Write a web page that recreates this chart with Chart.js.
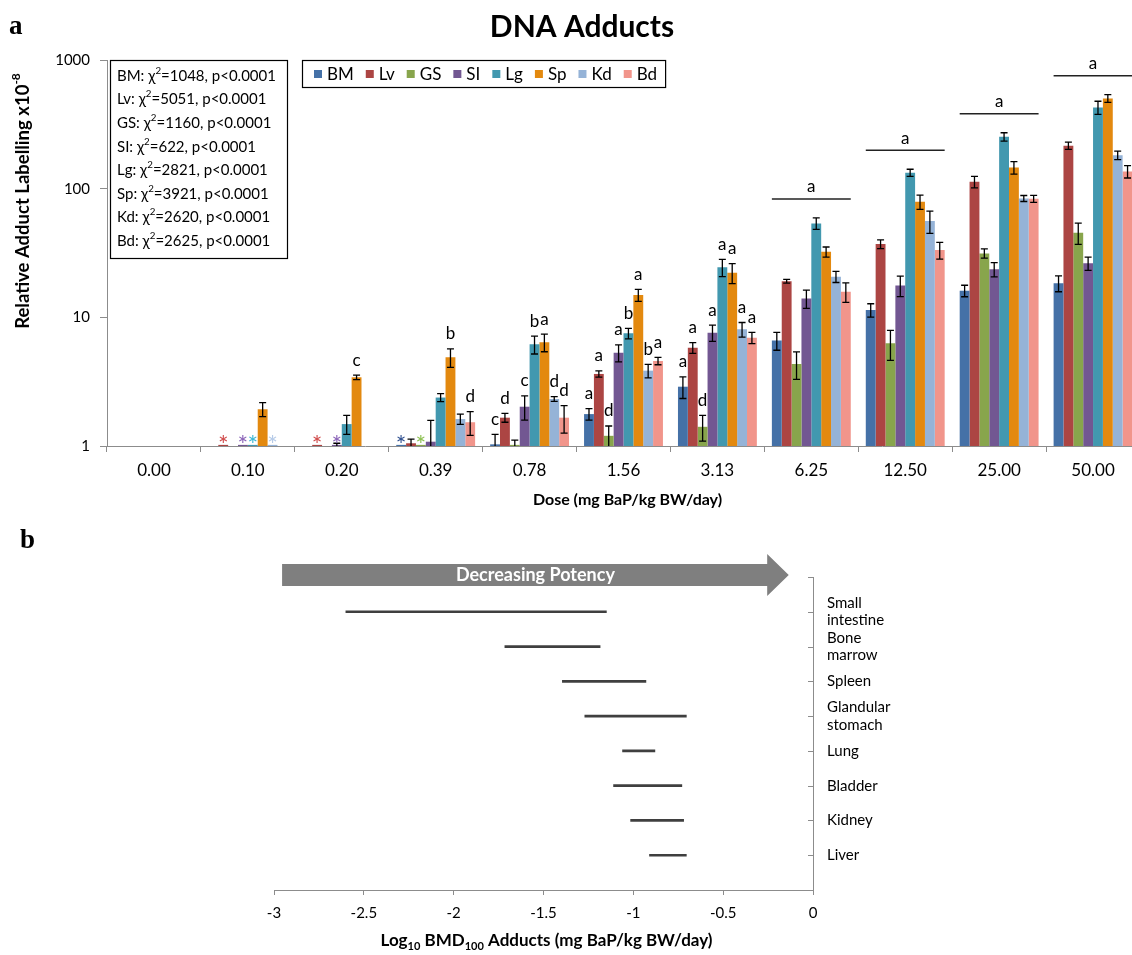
<!DOCTYPE html>
<html><head><meta charset="utf-8">
<script src="https://cdn.jsdelivr.net/npm/chart.js@4.4.1/dist/chart.umd.min.js"></script>
<style>
html,body{margin:0;padding:0;background:#fff;overflow:hidden;width:1132px;height:955px;position:relative;}
#wa{position:absolute;left:0;top:0;width:1142px;height:520px;}
#wb{position:absolute;left:0;top:520px;width:1132px;height:435px;}
canvas{display:block;}
</style></head><body>
<div id="wa"><canvas id="ca" width="1142" height="520"></canvas></div>
<div id="wb"><canvas id="cb" width="1132" height="435"></canvas></div>
<script>
// ---------- Panel a data ----------
const doses = ['0.00','0.10','0.20','0.39','0.78','1.56','3.13','6.25','12.50','25.00','50.00'];
const seriesNames = ['BM','Lv','GS','SI','Lg','Sp','Kd','Bd'];
const BM = [null,null,null,1.02,1.03,1.77,2.89,6.6,11.4,16.1,18.4];
const Lv = [null,1.02,1.02,1.05,1.66,3.63,5.8,19.1,37.1,113,216];
const GS = [null,null,null,1.02,1.02,1.20,1.41,4.34,6.28,31.4,45.4];
const SI = [null,1.02,1.02,1.08,2.02,5.31,7.6,14.0,17.7,23.6,26.3];
const Lg = [null,1.02,1.48,2.38,6.17,7.51,24.5,53.7,133,253,428];
const Sp = [null,1.93,3.42,4.89,6.4,14.9,22.2,32.3,79,146,503];
const Kd = [null,1.02,null,1.62,2.32,3.85,8.07,20.7,56,84,182];
const Bd = [null,null,null,1.53,1.66,4.58,6.95,15.8,33.3,83.5,136];
// standard errors
const BM_se = [0,0,0,0,0.2,0.18,0.55,1.05,1.35,1.65,2.6];
const Lv_se = [0,0,0,0.08,0.13,0.2,0.55,0.65,2.9,11.5,14];
const GS_se = [0,0,0,0,0.09,0.23,0.32,1.05,1.65,2.6,8.5];
const SI_se = [0,0,0.03,0.5,0.43,0.8,1.1,2.25,3.2,3.0,3.1];
const Lg_se = [0,0,0.25,0.17,0.98,0.7,3.75,5.5,8.5,19,50];
const Sp_se = [0,0.24,0.14,0.8,1.0,1.6,3.95,2.9,10,16.5,35];
const Kd_se = [0,0,0,0.15,0.1,0.46,1.05,2.05,11,4.5,14];
const Bd_se = [0,0,0,0.32,0.4,0.3,0.7,2.75,5,5.2,15];
// significance marks
const BM_sig = [null,null,null,'*','c','a','a',null,null,null,null];
const Lv_sig = [null,'*','*',null,'d','a','a',null,null,null,null];
const GS_sig = [null,null,null,'*',null,'d','d',null,null,null,null];
const SI_sig = [null,'*','*',null,'c','a','a',null,null,null,null];
const Lg_sig = [null,'*',null,null,'b','b','a',null,null,null,null];
const Sp_sig = [null,null,'c','b','a','a','a',null,null,null,null];
const Kd_sig = [null,'*',null,null,'d','b','a',null,null,null,null];
const Bd_sig = [null,null,null,'d','d','a','a',null,null,null,null];
const groupSig = [null,null,null,null,null,null,null,'a','a','a','a'];
const chiValues = [1048,5051,1160,622,2821,3921,2620,2625];
const pText = 'p<0.0001';
const yTicks = [1,10,100,1000];

// ---------- Panel b data ----------
const organs = [['Small','intestine'],['Bone','marrow'],['Spleen'],['Glandular','stomach'],['Lung'],['Bladder'],['Kidney'],['Liver']];
const bmdLow  = [-2.60,-1.715,-1.395,-1.27,-1.06,-1.11,-1.015,-0.91];
const bmdHigh = [-1.15,-1.185,-0.93,-0.705,-0.88,-0.73,-0.72,-0.705];
const bTicks = [-3,-2.5,-2,-1.5,-1,-0.5,0];

// ---------- styles ----------
const seriesColors = ['#4571A7','#AC4543','#88A54C','#725792','#4298AF','#E3890F','#95B3D7','#F1958B'];
const starColors = ['#2f4f8f','#d04a4a','#8cc050','#8a63b8','#3cb8d4','#e3890f','#b6cbe8','#f1958b'];
const FONT = 'Lato, "Open Sans", sans-serif';
const vals = [BM,Lv,GS,SI,Lg,Sp,Kd,Bd];
const ses = [BM_se,Lv_se,GS_se,SI_se,Lg_se,Sp_se,Kd_se,Bd_se];
const sigs = [BM_sig,Lv_sig,GS_sig,SI_sig,Lg_sig,Sp_sig,Kd_sig,Bd_sig];

function richText(ctx, parts, x, y, align, size, weight){
  const f = (s)=> `${weight} ${s}px ${FONT}`;
  let total = 0;
  parts.forEach(p=>{ ctx.font = f(p.m ? size*0.65 : size); p.w = ctx.measureText(p.t).width; total += p.w; });
  let cx = align==='center' ? x - total/2 : (align==='right' ? x-total : x);
  ctx.textAlign='left'; ctx.textBaseline='middle';
  parts.forEach(p=>{
    ctx.font = f(p.m ? size*0.65 : size);
    const dy = p.m==='sup' ? -size*0.35 : (p.m==='sub' ? size*0.3 : 0);
    ctx.fillText(p.t, cx, y+dy); cx += p.w;
  });
}

const pluginA = {
  id:'annA',
  afterDatasetsDraw(chart){
    const {ctx, chartArea:ca, scales:{x:xs, y:ys}} = chart;
    ctx.save();
    ctx.beginPath(); ctx.rect(0, 0, chart.width, ca.bottom); ctx.clip();
    ctx.strokeStyle='#000'; ctx.lineWidth=1.3;
    vals.forEach((arr,i)=>{
      const meta = chart.getDatasetMeta(i);
      arr.forEach((v,j)=>{
        const se = ses[i][j];
        if(v==null || !se) return;
        const x = meta.data[j].x;
        const yh = ys.getPixelForValue(v+se);
        const lo = v-se;
        const yl = lo>1 ? ys.getPixelForValue(lo) : ca.bottom+5;
        ctx.beginPath();
        ctx.moveTo(x, yh); ctx.lineTo(x, yl);
        ctx.moveTo(x-3.5, yh); ctx.lineTo(x+3.5, yh);
        if(lo>1){ ctx.moveTo(x-3.5, yl); ctx.lineTo(x+3.5, yl); }
        ctx.stroke();
      });
    });
    ctx.restore();
    // letters & stars
    ctx.save();
    vals.forEach((arr,i)=>{
      const meta = chart.getDatasetMeta(i);
      sigs[i].forEach((s,j)=>{
        if(!s) return;
        const x = meta.data[j].x;
        if(s==='*'){
          ctx.fillStyle = starColors[i]; ctx.font = `25px ${FONT}`;
          ctx.textAlign='center'; ctx.textBaseline='alphabetic';
          ctx.fillText('*', x, ca.bottom+8);
        } else {
          const v = arr[j], se = ses[i][j]||0;
          const yt = ys.getPixelForValue(v+se);
          ctx.fillStyle='#000'; ctx.font=`17px ${FONT}`;
          ctx.textAlign='center'; ctx.textBaseline='middle';
          ctx.fillText(s, x, yt-15);
        }
      });
    });
    // group lines
    const m0 = chart.getDatasetMeta(0), m7 = chart.getDatasetMeta(7);
    groupSig.forEach((g,j)=>{
      if(!g) return;
      let minY = Infinity;
      vals.forEach((arr,i)=>{ if(arr[j]!=null){ minY = Math.min(minY, ys.getPixelForValue(arr[j]+(ses[i][j]||0))); }});
      const l = m0.data[j].x - m0.data[j].width/2, r = m7.data[j].x + m7.data[j].width/2;
      const ly = minY - 19;
      ctx.strokeStyle='#222'; ctx.lineWidth=1.5;
      ctx.beginPath(); ctx.moveTo(l, ly); ctx.lineTo(r, ly); ctx.stroke();
      ctx.fillStyle='#000'; ctx.font=`17px ${FONT}`; ctx.textAlign='center'; ctx.textBaseline='middle';
      ctx.fillText(g, (l+r)/2, ly-12);
    });
    ctx.restore();
  },
  afterDraw(chart){
    const {ctx, chartArea:ca} = chart;
    ctx.save();
    ctx.fillStyle='#000';
    // panel letter
    ctx.font = 'bold 27px "Liberation Serif", serif'; ctx.textAlign='left'; ctx.textBaseline='middle';
    ctx.fillText('a', 9, 27);
    // title
    ctx.font = `bold 30px ${FONT}`; ctx.textAlign='center';
    ctx.fillText('DNA Adducts', 582, 27);
    // y title
    ctx.save(); ctx.translate(23, 201); ctx.rotate(-Math.PI/2);
    richText(ctx,[{t:'Relative Adduct Labelling x10'},{t:'-8',m:'sup'}],0,0,'center',18.5,'bold');
    ctx.restore();
    // x title
    richText(ctx,[{t:'Dose (mg BaP/kg BW/day)'}],(ca.left+ca.right)/2+4,500,'center',16,'bold');
    // stats box
    ctx.fillStyle='#fff'; ctx.fillRect(110,60,177,198);
    ctx.strokeStyle='#000'; ctx.lineWidth=1.2; ctx.strokeRect(110.5,60.5,177,198);
    ctx.fillStyle='#000';
    seriesNames.forEach((n,i)=>{
      richText(ctx,[{t:n+': χ'},{t:'2',m:'sup'},{t:'='+chiValues[i]+', '+pText}],117,76+i*23.6,'left',15,'normal');
    });
    // legend
    ctx.font = `17px ${FONT}`;
    let lx = 314; const lyc = 74;
    let lastEnd = lx;
    seriesNames.forEach((n,i)=>{
      ctx.fillStyle = seriesColors[i]; ctx.fillRect(lx, lyc-4, 8, 8);
      ctx.fillStyle='#000'; ctx.textAlign='left'; ctx.textBaseline='middle';
      ctx.fillText(n, lx+13, lyc+1);
      const w = ctx.measureText(n).width;
      lastEnd = lx+13+w;
      lx = lastEnd + 12;
    });
    ctx.strokeStyle='#000'; ctx.lineWidth=1.2;
    ctx.strokeRect(302.5, 60.5, lastEnd+8-302, 27);
    ctx.restore();
  }
};

new Chart(document.getElementById('ca'), {
  type:'bar',
  data:{
    labels: doses,
    datasets: seriesNames.map((n,i)=>({label:n, data:vals[i], backgroundColor:seriesColors[i], borderWidth:0,
      categoryPercentage:0.84, barPercentage:1.0}))
  },
  options:{
    responsive:false, animation:false, devicePixelRatio:1,
    layout:{padding:{left:0,right:2,top:60,bottom:0}},
    plugins:{legend:{display:false}, tooltip:{enabled:false}, title:{display:false}},
    scales:{
      x:{ type:'category', offset:true,
        grid:{offset:true, drawOnChartArea:false, tickLength:6, color:'#8c8c8c'},
        border:{color:'#8c8c8c'},
        ticks:{font:{family:FONT,size:17}, color:'#000', padding:8, maxRotation:0, autoSkip:false},
        afterFit(s){ s.height = 74; } },
      y:{ type:'logarithmic', min:1, max:1000,
        afterBuildTicks(s){ s.ticks = yTicks.map(v=>({value:v})); },
        ticks:{font:{family:FONT,size:15}, color:'#000', padding:10, callback:(v)=>String(v)},
        grid:{drawOnChartArea:false, tickLength:7, color:'#8c8c8c'},
        border:{color:'#8c8c8c'},
        afterFit(s){ s.width = 107; } }
    }
  },
  plugins:[pluginA]
});

const pluginB = {
  id:'annB',
  afterDraw(chart){
    const {ctx, chartArea:ca, scales:{x:xs, y:ys}} = chart;
    ctx.save();
    ctx.fillStyle='#000';
    ctx.font = 'bold 27px "Liberation Serif", serif'; ctx.textAlign='left'; ctx.textBaseline='middle';
    ctx.fillText('b', 20, 21);
    // right axis inward tick marks
    ctx.strokeStyle='#8c8c8c'; ctx.lineWidth=1;
    for(let v=0; v<=8; v++){
      const y = Math.round(ys.getPixelForValue(v))+0.5;
      ctx.beginPath(); ctx.moveTo(ca.right-5, y); ctx.lineTo(ca.right, y); ctx.stroke();
    }
    // arrow
    const yc = ys.getPixelForValue(0) - 2;
    const x0 = xs.getPixelForValue(-2.955), xb = xs.getPixelForValue(-0.255), xt = xs.getPixelForValue(-0.135);
    ctx.fillStyle='#7f7f7f';
    ctx.beginPath();
    ctx.moveTo(x0, yc-11); ctx.lineTo(xb, yc-11); ctx.lineTo(xb, yc-21); ctx.lineTo(xt, yc);
    ctx.lineTo(xb, yc+21); ctx.lineTo(xb, yc+11); ctx.lineTo(x0, yc+11); ctx.closePath(); ctx.fill();
    ctx.fillStyle='#fff';
    richText(ctx,[{t:'Decreasing Potency'}],(x0+xt)/2, yc, 'center', 18, 'bold');
    // x title
    ctx.fillStyle='#000';
    richText(ctx,[{t:'Log'},{t:'10',m:'sub'},{t:' BMD'},{t:'100',m:'sub'},{t:' Adducts (mg BaP/kg BW/day)'}],(ca.left+ca.right)/2+3, 421,'center',17,'bold');
    ctx.restore();
  }
};

new Chart(document.getElementById('cb'), {
  type:'bar',
  data:{ datasets:[{ data: organs.map((o,i)=>({y:i+1, x:[bmdLow[i], bmdHigh[i]]})),
    backgroundColor:'#3f3f3f', borderWidth:0, barThickness:2 }]},
  options:{
    indexAxis:'y', responsive:false, animation:false, devicePixelRatio:1,
    layout:{padding:{left:274,top:57,right:0,bottom:0}},
    plugins:{legend:{display:false}, tooltip:{enabled:false}},
    scales:{
      x:{ type:'linear', min:-3, max:0, offset:false,
        afterBuildTicks(s){ s.ticks = bTicks.map(v=>({value:v})); },
        ticks:{font:{family:FONT,size:15}, color:'#000', padding:9, callback:(v)=>String(v)},
        grid:{drawOnChartArea:false, tickLength:5, color:'#8c8c8c'},
        border:{color:'#8c8c8c'},
        afterFit(s){ s.height = 65; } },
      y:{ type:'linear', position:'right', min:0, max:9, reverse:true, offset:false,
        afterBuildTicks(s){ s.ticks = organs.map((o,i)=>({value:i+1})); },
        ticks:{font:{family:FONT,size:15,lineHeight:1.15}, color:'#000', padding:14, callback:(v)=>organs[v-1]||''},
        grid:{drawOnChartArea:false, drawTicks:false, offset:false},
        border:{color:'#8c8c8c'},
        afterFit(s){ s.width = 319; } }
    }
  },
  plugins:[pluginB]
});
</script>
</body></html>
